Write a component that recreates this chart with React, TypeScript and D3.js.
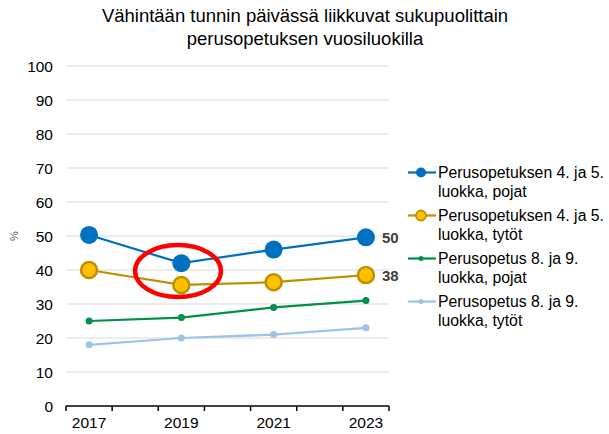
import React from "react";
import * as d3 from "d3";

const years = ["2017", "2018", "2019", "2020", "2021", "2022", "2023"];
const dataYears = ["2017", "2019", "2021", "2023"];
const boys45 = [50.3, 42, 46, 49.6];
const girls45 = [40, 35.6, 36.4, 38.5];
const boys89 = [25, 26, 29, 31];
const girls89 = [18, 20, 21, 23];
const yTicks = [0, 10, 20, 30, 40, 50, 60, 70, 80, 90, 100];
const labelYears = ["2017", "2019", "2021", "2023"];

const series = [
  { name: ["Perusopetuksen 4. ja 5.", "luokka, pojat"], values: boys45, color: "#0070C0", fill: "#0070C0", r: 9, sw: 0, big: true, label: "50" },
  { name: ["Perusopetuksen 4. ja 5.", "luokka, tytöt"], values: girls45, color: "#BF9000", fill: "#FFC000", r: 8, sw: 2.5, big: true, label: "38" },
  { name: ["Perusopetus 8. ja 9.", "luokka, pojat"], values: boys89, color: "#00904A", fill: "#00904A", r: 3.5, sw: 0, big: false, label: "" },
  { name: ["Perusopetus 8. ja 9.", "luokka, tytöt"], values: girls89, color: "#9DC3E6", fill: "#9DC3E6", r: 3.5, sw: 0, big: false, label: "" },
];

export default function App() {
  const W = 609, H = 434;
  const x = d3.scaleBand().domain(years).range([66, 389]);
  const y = d3.scaleLinear().domain([0, 100]).range([406, 66]);
  const cx = (yr: string) => (x(yr) as number) + x.bandwidth() / 2;
  const line = d3.line<number>().x((_, i) => cx(dataYears[i])).y((v) => y(v));
  const font = "Arial, 'Liberation Sans', sans-serif";
  const ticksX = years.map((yr) => x(yr) as number).concat([389]);
  return (
    <svg width={W} height={H} style={{ position: "absolute", left: 0, top: 0, fontFamily: font }}>
      <rect width={W} height={H} fill="#fff" />
      <text x={305} y={22} textAnchor="middle" fontSize={18.5} fill="#000">Vähintään tunnin päivässä liikkuvat sukupuolittain</text>
      <text x={305} y={45} textAnchor="middle" fontSize={18.5} fill="#000">perusopetuksen vuosiluokilla</text>
      {yTicks.map((t) => (
        <g key={t}>
          {t > 0 && <line x1={66} x2={389} y1={y(t)} y2={y(t)} stroke="#D9D9D9" strokeWidth={1} />}
          <text x={53} y={y(t) + 5.5} textAnchor="end" fontSize={15.5} fill="#000">{t}</text>
        </g>
      ))}
      <text transform={`translate(18,${y(50)}) rotate(-90)`} textAnchor="middle" fontSize={11} fill="#595959">%</text>
      <line x1={66} x2={389} y1={406} y2={406} stroke="#000" strokeWidth={1.5} />
      {ticksX.map((tx, i) => (
        <line key={i} x1={tx} x2={tx} y1={406} y2={411} stroke="#000" strokeWidth={1.5} />
      ))}
      {labelYears.map((yr) => (
        <text key={yr} x={cx(yr)} y={428} textAnchor="middle" fontSize={15.5} fill="#000">{yr}</text>
      ))}
      {series.slice().reverse().map((s, k) => (
        <g key={k}>
          <path d={line(s.values) as string} fill="none" stroke={s.color} strokeWidth={2.25} />
          {s.values.map((v, i) => (
            <circle key={i} cx={cx(dataYears[i])} cy={y(v)} r={s.r} fill={s.fill} stroke={s.color} strokeWidth={s.sw} />
          ))}
          {s.label && (
            <text x={cx("2023") + 16} y={y(s.values[3]) + 5.5} fontSize={15} fontWeight="bold" fill="#404040">{s.label}</text>
          )}
        </g>
      ))}
      <ellipse cx={178} cy={271} rx={43} ry={26} fill="none" stroke="#FF0000" strokeWidth={4.5} />
      {series.map((s, i) => {
        const ly = 172.5 + i * 43;
        return (
          <g key={i}>
            <line x1={408} x2={436} y1={ly} y2={ly} stroke={s.color} strokeWidth={2.25} />
            <circle cx={421} cy={ly} r={s.big ? 5 : 2.5} fill={s.fill} stroke={s.color} strokeWidth={s.big && s.sw ? 1.8 : 0} />
            <text x={438} y={ly + 5.5} fontSize={15.8} fill="#000">{s.name[0]}</text>
            <text x={438} y={ly + 24.5} fontSize={15.8} fill="#000">{s.name[1]}</text>
          </g>
        );
      })}
    </svg>
  );
}
